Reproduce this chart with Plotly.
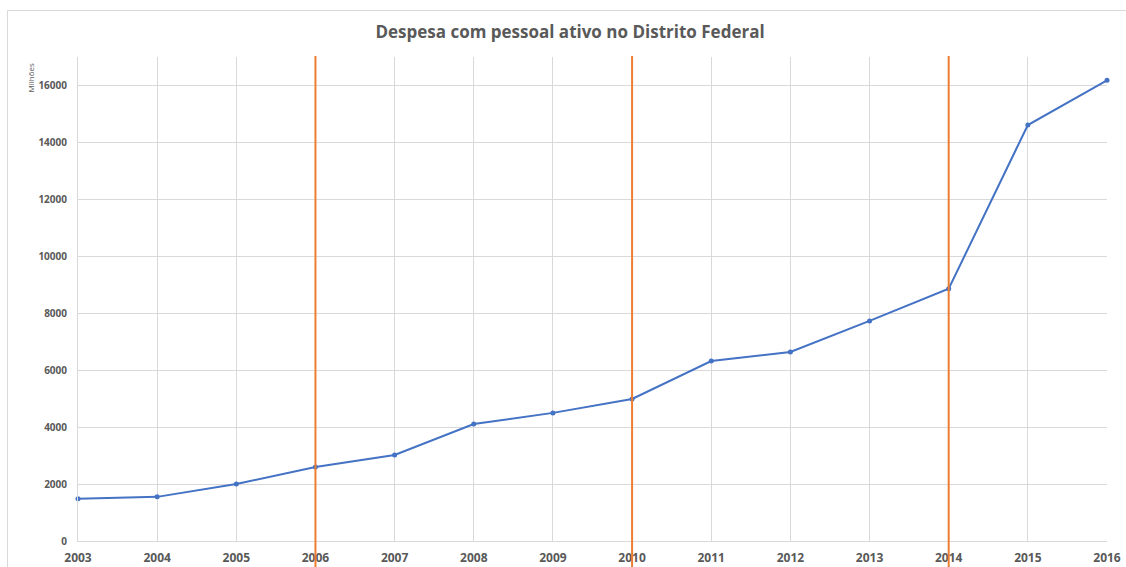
import plotly.graph_objects as go

years = [2003, 2004, 2005, 2006, 2007, 2008, 2009, 2010, 2011, 2012, 2013, 2014, 2015, 2016]
despesa_milhoes = [1480, 1550, 2000, 2600, 3020, 4110, 4500, 4990, 6320, 6640, 7730, 8860, 14610, 16180]
election_years = [2006, 2010, 2014]
y_ticks = [0, 2000, 4000, 6000, 8000, 10000, 12000, 14000, 16000]

W, H = 1126, 567
L, R, T, B = 78, 19, 57, 26
pw, ph = W - L - R, H - T - B

def px_x(px):
    return (px - L) / pw

def px_y(py):
    return (H - B - py) / ph

fig = go.Figure()
fig.add_trace(go.Scatter(
    x=years, y=despesa_milhoes, mode="lines+markers",
    line=dict(color="#4472C4", width=2),
    marker=dict(color="#4472C4", size=5),
    cliponaxis=False, showlegend=False,
))

for yr in election_years:
    fig.add_shape(type="line", xref="x", yref="paper", x0=yr, x1=yr,
                  y0=px_y(567), y1=px_y(56),
                  line=dict(color="#ED7D31", width=2), layer="above")

# outer chart border (left and top)
fig.add_shape(type="line", xref="paper", yref="paper",
              x0=px_x(7.5), x1=px_x(7.5), y0=px_y(567), y1=px_y(10.5),
              line=dict(color="#D9D9D9", width=1))
fig.add_shape(type="line", xref="paper", yref="paper",
              x0=px_x(7.5), x1=px_x(1126), y0=px_y(10.5), y1=px_y(10.5),
              line=dict(color="#D9D9D9", width=1))

fig.add_annotation(text="Milhões", xref="paper", yref="paper",
                   x=px_x(30), y=px_y(62), xanchor="center", yanchor="top",
                   textangle=-90, showarrow=False,
                   font=dict(family="Open Sans, sans-serif", size=8, color="#595959"))

fig.update_layout(
    width=W, height=H,
    margin=dict(l=L, r=R, t=T, b=B, autoexpand=False),
    paper_bgcolor="white", plot_bgcolor="white",
    title=dict(text="<b>Despesa com pessoal ativo no Distrito Federal</b>",
               x=570 / W, xanchor="center",
               y=1 - 32 / H, yanchor="middle",
               font=dict(family="Open Sans, sans-serif", size=17, color="#595959")),
    xaxis=dict(range=[2003, 2016], tickmode="array", tickvals=years,
               ticktext=[f"<b>{y}</b>" for y in years], automargin=False,
               showgrid=True, gridcolor="#D9D9D9", gridwidth=1,
               showline=True, linecolor="#D9D9D9", linewidth=1,
               zeroline=False, ticks="", ticklabelstandoff=6,
               tickfont=dict(family="Open Sans, sans-serif", size=12, color="#595959")),
    yaxis=dict(range=[0, 17000], tickmode="array", tickvals=y_ticks,
               ticktext=[f"<b>{v}</b>" for v in y_ticks], automargin=False,
               showgrid=True, gridcolor="#D9D9D9", gridwidth=1,
               showline=True, linecolor="#D9D9D9", linewidth=1,
               zeroline=False, ticks="", ticklabelstandoff=8,
               tickfont=dict(family="Open Sans, sans-serif", size=10, color="#595959")),
)

fig.write_html(
    "out.html",
    config={"displayModeBar": False},
    post_script=(
        "document.documentElement.style.margin='0';"
        "document.documentElement.style.overflow='hidden';"
        "document.body.style.margin='0';"
        "document.body.style.overflow='hidden';"
    ),
)
